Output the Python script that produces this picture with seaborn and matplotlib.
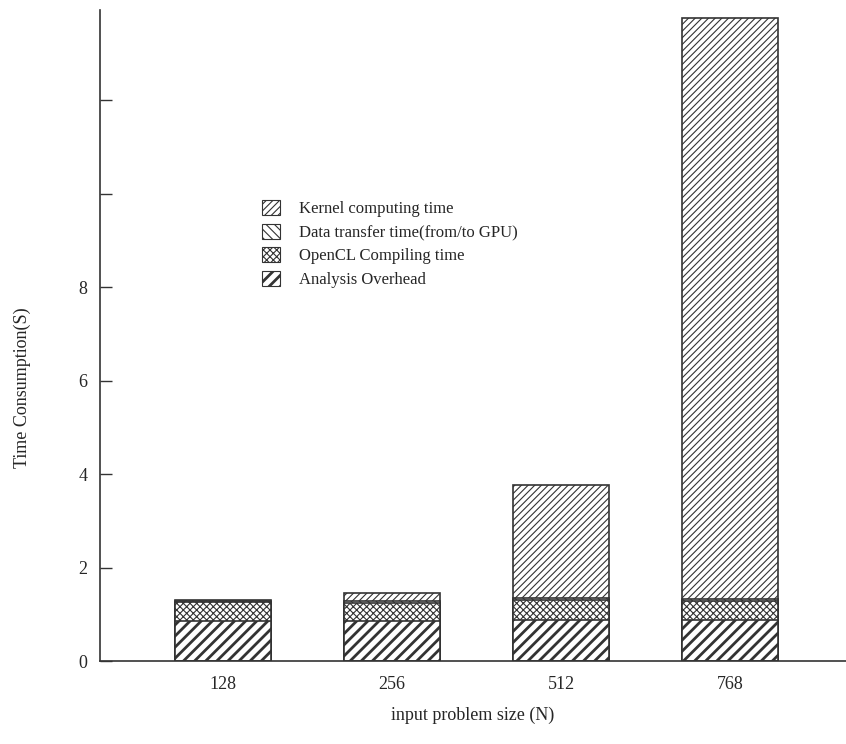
import matplotlib
matplotlib.use("Agg")
import matplotlib.pyplot as plt
import seaborn as sns
import numpy as np
import pandas as pd
from matplotlib.patches import Patch

sizes = ["128", "256", "512", "768"]
analysis = [0.86, 0.86, 0.88, 0.88]
compiling = [0.40, 0.39, 0.42, 0.40]
transfer = [0.03, 0.04, 0.04, 0.04]
kernel = [0.02, 0.16, 2.43, 12.43]

layer_names = ["Analysis Overhead", "OpenCL Compiling time",
               "Data transfer time(from/to GPU)", "Kernel computing time"]
layer_vals = [analysis, compiling, transfer, kernel]
hatches = ["///", "xxxxx", "\\\\\\\\", "/////"]
hatch_lw = [2.0, 0.8, 0.8, 0.8]

y_ticks = [0, 2, 4, 6, 8, 10, 12]
y_ticklabels = ["0", "2", "4", "6", "8", "", ""]

sns.set_theme(style="white")
plt.rcParams["font.family"] = ["Liberation Serif", "DejaVu Serif"]

fig = plt.figure(figsize=(8.46, 7.44), dpi=100)
ax = fig.add_axes([100 / 846, 1 - 661 / 744, 746 / 846, 651 / 744])

cum = np.cumsum(np.array(layer_vals), axis=0)
# draw from the top layer down so lower layers cover the upper ones
for i in reversed(range(len(layer_names))):
    df = pd.DataFrame({"size": sizes, "val": cum[i]})
    plt.rcParams["hatch.linewidth"] = hatch_lw[i]
    sns.barplot(data=df, x="size", y="val", ax=ax, color="white",
                width=0.57, edgecolor="#333333", linewidth=1.2,
                hatch=hatches[i], saturation=1, errorbar=None)
    for p in ax.patches[-len(sizes):]:
        p.set_facecolor("white")
        p.set_hatch(hatches[i])
        try:
            p.set_hatch_linewidth(hatch_lw[i])
        except Exception:
            pass

plt.rcParams["hatch.linewidth"] = 0.8
ax.set_xlim(-0.728, 3.686)
ax.set_ylim(0, 13.93)
ax.set_yticks(y_ticks)
ax.set_yticklabels(y_ticklabels)
ax.tick_params(axis="y", direction="in", length=8.5, width=1, pad=9,
               labelsize=13, left=True, color="#333333")
ax.tick_params(axis="x", length=0, pad=11, labelsize=13)
for s in ["top", "right"]:
    ax.spines[s].set_visible(False)
for s in ["left", "bottom"]:
    ax.spines[s].set_color("#333333")
    ax.spines[s].set_linewidth(1.2)

ax.set_xlabel("input problem size (N)", fontsize=13, labelpad=10)
ax.set_ylabel("Time Consumption(S)", fontsize=13)
ax.yaxis.set_label_coords(-0.093, 0.42)

handles = []
for i in reversed(range(len(layer_names))):
    h = Patch(facecolor="white", edgecolor="#333333", hatch=hatches[i],
              label=layer_names[i], linewidth=0.8)
    handles.append(h)
leg = ax.legend(handles=handles, loc="upper left",
                bbox_to_anchor=(0.208, 0.718), frameon=False, fontsize=12,
                handlelength=1.1, handleheight=1.0, handletextpad=1.1,
                labelspacing=0.38, borderaxespad=0)
rev_lw = list(reversed(hatch_lw))
for p, lw in zip(leg.get_patches(), rev_lw):
    try:
        p.set_hatch_linewidth(lw)
    except Exception:
        pass

fig.savefig("out.png", dpi=100)
